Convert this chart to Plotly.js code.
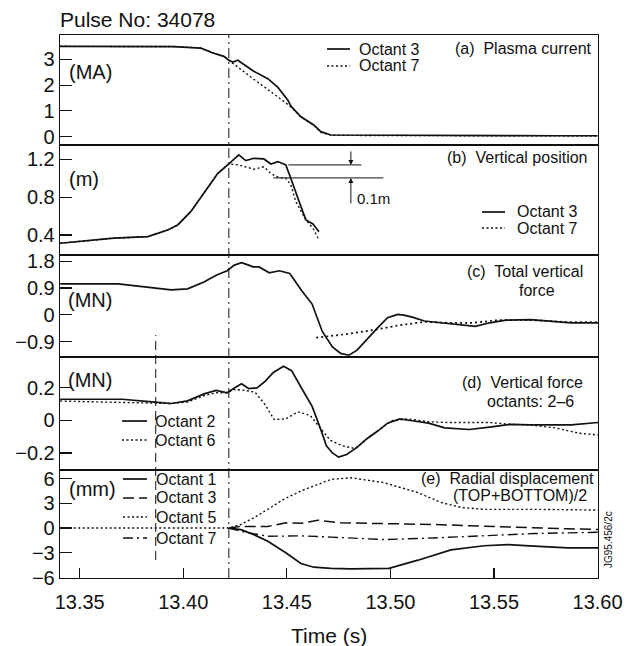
<!DOCTYPE html>
<html>
<head>
<meta charset="utf-8">
<script src="https://cdn.plot.ly/plotly-3.0.1.min.js"></script>
<style>html,body{margin:0;padding:0;background:#fff;}#chart{width:639px;height:646px;}</style>
</head>
<body>
<div id="chart"></div>
<script>
// ---------- Data (time in s) ----------
// (a) Plasma current (MA)
const tA3 = [13.3406, 13.36, 13.38, 13.3954, 13.4085, 13.4147, 13.4196, 13.422, 13.4239, 13.4263, 13.434, 13.4408, 13.4457, 13.4505, 13.452, 13.4568, 13.463, 13.4664, 13.4713, 13.49, 13.52, 13.55, 13.58, 13.6];
const iA3 = [3.51, 3.51, 3.50, 3.50, 3.44, 3.24, 3.12, 2.97, 2.90, 2.97, 2.54, 2.25, 1.91, 1.41, 1.18, 0.77, 0.45, 0.19, 0.06, 0.05, 0.04, 0.04, 0.03, 0.03];
const tA7 = [13.3406, 13.36, 13.38, 13.3954, 13.4085, 13.4147, 13.4196, 13.422, 13.4239, 13.434, 13.4457, 13.452, 13.4568, 13.463, 13.4664, 13.4713, 13.49, 13.52, 13.55, 13.58, 13.6];
const iA7 = [3.51, 3.51, 3.50, 3.50, 3.44, 3.24, 3.12, 2.97, 2.84, 2.23, 1.54, 1.15, 0.76, 0.44, 0.16, 0.05, 0.04, 0.03, 0.03, 0.02, 0.02];

// (b) Vertical position (m)
const tB3 = [13.3406, 13.3601, 13.3664, 13.3829, 13.3925, 13.3973, 13.4036, 13.4099, 13.4167, 13.422, 13.4268, 13.4302, 13.4341, 13.4389, 13.4423, 13.4457, 13.4495, 13.4519, 13.4543, 13.4568, 13.4592, 13.4626, 13.4655];
const zB3 = [0.314, 0.349, 0.367, 0.384, 0.454, 0.507, 0.647, 0.841, 1.052, 1.15, 1.245, 1.185, 1.21, 1.203, 1.15, 1.175, 1.14, 1.0, 0.841, 0.70, 0.56, 0.518, 0.436];
const tB7 = [13.3406, 13.3601, 13.3664, 13.3829, 13.3925, 13.3973, 13.4036, 13.4099, 13.4167, 13.422, 13.4268, 13.4341, 13.4389, 13.4423, 13.4457, 13.4495, 13.4519, 13.4543, 13.4568, 13.4592, 13.4626, 13.4655];
const zB7 = [0.314, 0.349, 0.367, 0.384, 0.454, 0.507, 0.647, 0.841, 1.052, 1.15, 1.14, 1.095, 1.12, 1.05, 1.01, 1.0, 0.93, 0.753, 0.647, 0.56, 0.472, 0.35];
const refLevelsB = [1.14, 1.003];          // the two 0.1 m marker levels
const refStartB = [13.4507, 13.4435];
const refEndB = [13.486, 13.4966];
const arrowT = 13.4809;

// (c) Total vertical force (MN)
const tC = [13.3406, 13.3686, 13.3824, 13.3942, 13.4021, 13.4100, 13.4159, 13.4212, 13.4247, 13.4281, 13.4316, 13.4336, 13.4366, 13.4415, 13.4464, 13.4514, 13.4572, 13.4622, 13.4671, 13.4720, 13.4760, 13.4800, 13.4839, 13.4888, 13.4937, 13.4986, 13.5036, 13.5065, 13.5105, 13.5164, 13.5243, 13.5341, 13.5410, 13.5479, 13.5558, 13.5676, 13.5775, 13.5873, 13.6002];
const fC = [1.04, 1.04, 0.93, 0.84, 0.87, 1.10, 1.33, 1.48, 1.67, 1.75, 1.67, 1.61, 1.61, 1.41, 1.48, 1.39, 0.81, 0.36, -0.56, -1.08, -1.30, -1.36, -1.19, -0.81, -0.45, -0.10, 0.01, -0.01, -0.08, -0.21, -0.27, -0.33, -0.39, -0.27, -0.18, -0.16, -0.21, -0.27, -0.27];
const tCd = [13.4642, 13.4789, 13.4928, 13.5046, 13.5164, 13.5282, 13.5400, 13.5519, 13.5676, 13.5873, 13.6002];
const fCd = [-0.77, -0.65, -0.50, -0.35, -0.24, -0.27, -0.27, -0.18, -0.18, -0.25, -0.25];

// (d) Vertical force, octants 2 and 6 (MN)
const tD2 = [13.3406, 13.3705, 13.3863, 13.3942, 13.4021, 13.4100, 13.4159, 13.4212, 13.4247, 13.4281, 13.4316, 13.4356, 13.4395, 13.4435, 13.4484, 13.4523, 13.4572, 13.4622, 13.4661, 13.4691, 13.4720, 13.4750, 13.4789, 13.4839, 13.4888, 13.4937, 13.4986, 13.5046, 13.5105, 13.5184, 13.5262, 13.5381, 13.5479, 13.5578, 13.5676, 13.5775, 13.5873, 13.6002];
const fD2 = [0.130, 0.13, 0.113, 0.104, 0.12, 0.163, 0.185, 0.17, 0.20, 0.225, 0.196, 0.20, 0.24, 0.295, 0.333, 0.306, 0.196, 0.086, -0.046, -0.156, -0.20, -0.226, -0.21, -0.166, -0.111, -0.067, -0.017, 0.009, -0.002, -0.017, -0.046, -0.056, -0.041, -0.024, -0.028, -0.028, -0.028, -0.013];
const tD6 = [13.3406, 13.3705, 13.3863, 13.3942, 13.4021, 13.4100, 13.4159, 13.4212, 13.4247, 13.4297, 13.4346, 13.4395, 13.4439, 13.4494, 13.4553, 13.4612, 13.4661, 13.4710, 13.4769, 13.4829, 13.4888, 13.4947, 13.5006, 13.5085, 13.5184, 13.5282, 13.5479, 13.5578, 13.5676, 13.5794, 13.5912, 13.6002];
const fD6 = [0.119, 0.113, 0.108, 0.104, 0.113, 0.152, 0.17, 0.17, 0.19, 0.185, 0.174, 0.097, 0.005, 0.009, 0.053, 0.031, -0.046, -0.123, -0.156, -0.173, -0.111, -0.056, -0.002, 0.009, -0.008, -0.013, -0.013, -0.024, -0.028, -0.046, -0.079, -0.09];

// (e) Radial displacement (mm)
const tE1 = [13.422, 13.4278, 13.4341, 13.4408, 13.4495, 13.4568, 13.4630, 13.4713, 13.4809, 13.4993, 13.5133, 13.5292, 13.5452, 13.5568, 13.5693, 13.5857, 13.6002];
const dE1 = [0, -0.2, -0.8, -1.6, -3.0, -4.3, -4.75, -4.9, -4.95, -4.9, -3.9, -2.65, -2.15, -2.0, -2.2, -2.4, -2.4];
const tE3 = [13.422, 13.4278, 13.4408, 13.4495, 13.4568, 13.4650, 13.4761, 13.4969, 13.5210, 13.5452, 13.5693, 13.5857, 13.6002];
const dE3 = [0, 0.2, 0.2, 0.63, 0.57, 0.95, 0.63, 0.57, 0.43, 0.22, 0.0, -0.1, -0.18];
const tE5 = [13.3406, 13.38, 13.40, 13.422, 13.4278, 13.4341, 13.4408, 13.4486, 13.4568, 13.4650, 13.4713, 13.4809, 13.4969, 13.5133, 13.5244, 13.5341, 13.5452, 13.5693, 13.6002];
const dE5 = [0, 0, 0, 0, 0.43, 1.25, 2.27, 3.5, 4.5, 5.3, 5.9, 6.1, 5.5, 4.3, 3.1, 2.5, 2.27, 2.27, 2.18];
const tE7 = [13.422, 13.4278, 13.4408, 13.4568, 13.4713, 13.4969, 13.5210, 13.5452, 13.5693, 13.6002];
const dE7 = [0, -0.4, -1.0, -0.95, -1.1, -1.4, -1.2, -0.92, -0.67, -0.51];

// Event times (vertical markers)
const tDisruption = 13.422;
const tEarly = 13.3867;

// Tick labels
const xTicks = [13.35, 13.40, 13.45, 13.50, 13.55, 13.60];
const xTickText = ['13.35', '13.40', '13.45', '13.50', '13.55', '13.60'];
const yTicksA = [0, 1, 2, 3];
const yTicksB = [0.4, 0.8, 1.2];
const yTextB = ['0.4', '0.8', '1.2'];
const yTicksC = [-0.9, 0, 0.9, 1.8];
const yTextC = ['\u22120.9', '0', '0.9', '1.8'];
const yTicksD = [-0.2, 0, 0.2];
const yTextD = ['\u22120.2', '0', '0.2'];
const yTicksE = [-6, -3, 0, 3, 6];
const yTextE = ['\u22126', '\u22123', '0', '3', '6'];

// ---------- Layout geometry ----------
const W = 639, H = 646;
const M = {l: 60, r: 41, t: 35, b: 68};
const PW = W - M.l - M.r, PH = H - M.t - M.b;
const edges = [35, 145, 255, 357, 470, 578]; // panel borders, px from top
const fy = py => (H - M.b - py) / PH;
const fx = px => (px - M.l) / PW;
const INK = '#111';
const FONT = 'Liberation Sans, Arial, Helvetica, sans-serif';
const SOLID = {color: INK, width: 1.7};
const DOT = {color: INK, width: 1.4, dash: '2px,2.5px'};
const LDASH = {color: INK, width: 1.5, dash: '11px,5px'};
const DDOT = {color: INK, width: 1.4, dash: '10px,4px,2px,4px'};

function tr(x, y, n, line) {
  return {x: x, y: y, xaxis: 'x' + (n === 1 ? '' : n), yaxis: 'y' + (n === 1 ? '' : n),
          type: 'scatter', mode: 'lines', line: line, showlegend: false, hoverinfo: 'skip'};
}
const data = [
  tr(tA7, iA7, 1, DOT), tr(tA3, iA3, 1, SOLID),
  tr(tB7, zB7, 2, DOT), tr(tB3, zB3, 2, SOLID),
  tr(tCd, fCd, 3, {color: INK, width: 1.7, dash: '2px,3px'}), tr(tC, fC, 3, SOLID),
  tr(tD6, fD6, 4, DOT), tr(tD2, fD2, 4, SOLID),
  tr(tE5, dE5, 5, DOT), tr(tE3, dE3, 5, LDASH), tr(tE7, dE7, 5, DDOT), tr(tE1, dE1, 5, SOLID)
];

const xRange = [13.3405, 13.6002];
const yRanges = [[-0.33, 3.95], [0.19, 1.35], [-1.42, 2.01], [-0.305, 0.39], [-6.06, 7.04]];
const yTicks = [[yTicksA, yTicksA.map(String)], [yTicksB, yTextB], [yTicksC, yTextC], [yTicksD, yTextD], [yTicksE, yTextE]];

const layout = {
  width: W, height: H, margin: M, paper_bgcolor: '#fff', plot_bgcolor: '#fff',
  font: {family: FONT, color: INK},
  title: {text: 'Pulse No: 34078', x: 60 / W, xanchor: 'left', xref: 'container',
          y: 1 - 20 / H, yanchor: 'middle', yref: 'container', font: {size: 21, color: INK}},
  shapes: [], annotations: []
};
for (let i = 1; i <= 5; i++) {
  const s = i === 1 ? '' : String(i);
  const dom = [fy(edges[i]), fy(edges[i - 1])];
  layout['xaxis' + s] = {
    domain: [0, 1], anchor: 'y' + s, range: xRange, showline: true, mirror: true,
    linecolor: INK, linewidth: 1.3, showgrid: false, zeroline: false,
    tickmode: 'array', tickvals: xTicks, ticktext: xTickText,
    ticks: i === 5 ? 'inside' : '', ticklen: 10, tickcolor: INK, tickwidth: 1.2,
    showticklabels: i === 5, tickfont: {size: 20, color: INK}, ticklabelstandoff: 6
  };
  layout['yaxis' + s] = {
    domain: dom, anchor: 'x' + s, range: yRanges[i - 1], showline: true, mirror: true,
    linecolor: INK, linewidth: 1.3, showgrid: false, zeroline: false,
    tickmode: 'array', tickvals: yTicks[i - 1][0], ticktext: yTicks[i - 1][1],
    ticks: 'inside', ticklen: 12, tickcolor: INK, tickwidth: 1.2,
    tickfont: {size: 20, color: INK}
  };
}

// vertical event markers
layout.shapes.push({type: 'line', xref: 'x5', yref: 'paper', x0: tDisruption, x1: tDisruption, y0: 0, y1: 1,
                    line: {color: INK, width: 1, dash: '10px,4px,2px,4px'}});
layout.shapes.push({type: 'line', xref: 'x5', yref: 'paper', x0: tEarly, x1: tEarly, y0: fy(560), y1: fy(335),
                    line: {color: INK, width: 1, dash: '9px,5px'}});
// 0.1 m marker lines in (b)
for (let k = 0; k < 2; k++) {
  layout.shapes.push({type: 'line', xref: 'x2', yref: 'y2', x0: refStartB[k], x1: refEndB[k], y0: refLevelsB[k], y1: refLevelsB[k],
                      line: {color: INK, width: 1}});
}
layout.annotations.push({xref: 'x2', yref: 'y2', x: arrowT, y: refLevelsB[0], ax: 0, ay: -15, text: '', showarrow: true,
                         arrowhead: 2, arrowsize: 1, arrowwidth: 1, arrowcolor: INK});
layout.annotations.push({xref: 'x2', yref: 'y2', x: arrowT, y: refLevelsB[1], ax: 0, ay: 27, text: '', showarrow: true,
                         arrowhead: 2, arrowsize: 1, arrowwidth: 1, arrowcolor: INK});

function txt(text, px, py, anchor, size, extra) {
  const a = {xref: 'paper', yref: 'paper', x: fx(px), y: fy(py), text: text, showarrow: false,
             xanchor: anchor, yanchor: 'middle', font: {size: size, color: INK, family: FONT}};
  return Object.assign(a, extra || {});
}
const A = layout.annotations;
A.push(txt('0.1m', 355, 198, 'left', 15));
A.push(txt('(MA)', 67, 72, 'left', 20));
A.push(txt('(m)', 67, 179, 'left', 20));
A.push(txt('(MN)', 66, 300, 'left', 20));
A.push(txt('(MN)', 66, 380, 'left', 20));
A.push(txt('(mm)', 67, 489, 'left', 20));
A.push(txt('(a)  Plasma current', 594, 48, 'right', 16));
A.push(txt('(b)  Vertical position', 590, 157, 'right', 16));
A.push(txt('(c)  Total vertical', 585, 271, 'right', 16));
A.push(txt('force', 537, 290, 'center', 16));
A.push(txt('(d)  Vertical force', 585, 382, 'right', 16));
A.push(txt('octants: 2\u20136', 576, 401, 'right', 16));
A.push(txt('(e)  Radial displacement', 596, 478, 'right', 16));
A.push(txt('(TOP+BOTTOM)/2', 589, 495, 'right', 16));
A.push(txt('JG95.456/2c', 608, 540, 'center', 10, {textangle: -90}));
A.push({xref: 'paper', yref: 'paper', x: 0.5, y: fy(635), text: 'Time (s)', showarrow: false,
        xanchor: 'center', yanchor: 'middle', font: {size: 21, color: INK, family: FONT}});

// hand-placed legends
function leg(label, style, x0, x1, tx, py) {
  layout.shapes.push({type: 'line', xref: 'paper', yref: 'paper', x0: fx(x0), x1: fx(x1), y0: fy(py), y1: fy(py),
                      line: Object.assign({}, style)});
  A.push(txt(label, tx, py, 'left', 16));
}
leg('Octant 3', SOLID, 327, 350, 357, 49);
leg('Octant 7', DOT, 327, 350, 357, 66);
leg('Octant 3', SOLID, 482, 505, 515, 212);
leg('Octant 7', DOT, 482, 505, 515, 228);
leg('Octant 2', SOLID, 122, 147, 153, 421);
leg('Octant 6', DOT, 122, 147, 153, 440);
leg('Octant 1', SOLID, 123, 147, 154, 479);
leg('Octant 3', LDASH, 123, 147, 154, 498);
leg('Octant 5', DOT, 123, 147, 154, 517);
leg('Octant 7', DDOT, 123, 147, 154, 538);

Plotly.newPlot('chart', data, layout, {displayModeBar: false, staticPlot: true});
</script>
</body>
</html>
